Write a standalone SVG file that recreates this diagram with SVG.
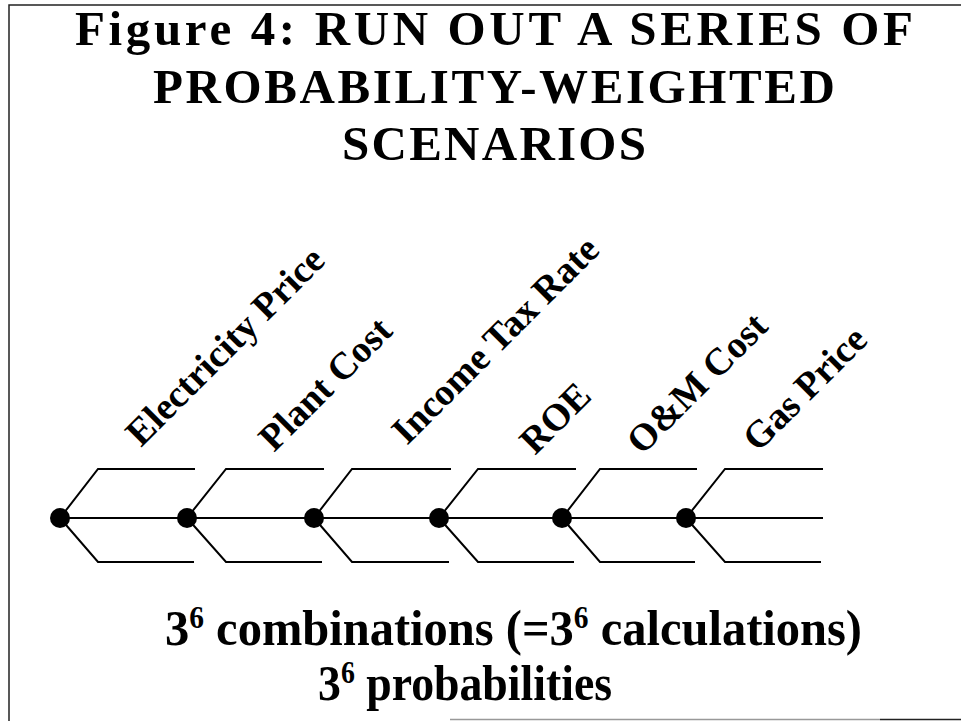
<svg xmlns="http://www.w3.org/2000/svg" width="961" height="721" viewBox="0 0 961 721">
<style>
  .title { font-family: "Liberation Serif", "Times New Roman", serif; font-weight: bold; font-size: 49px; fill: #000; }
  .lbl { font-family: "Liberation Serif", "Times New Roman", serif; font-weight: bold; font-size: 38px; fill: #000; }
  .foot { font-family: "Liberation Serif", "Times New Roman", serif; font-weight: bold; font-size: 51px; fill: #000; }
  .sup { font-size: 31px; }
  .branch { fill: none; stroke: #000; stroke-width: 2; stroke-linejoin: miter; }
  .dot { fill: #000; }
  .frame { fill: none; stroke: #222; stroke-width: 1.5; }
</style>
<rect x="0" y="0" width="961" height="721" fill="#fff"/>
<g id="frame">
  <path class="frame" d="M9,721 V5 H961"/>
  <path d="M450,719.5 H880" stroke="#999" stroke-width="1.5" fill="none"/>
  <path d="M880,719.5 H961" stroke="#222" stroke-width="1.5" fill="none"/>
</g>
<g id="title">
  <text class="title" x="75" y="45" textLength="838" lengthAdjust="spacing">Figure 4:  RUN OUT A SERIES OF</text>
  <text class="title" x="153" y="103" textLength="682" lengthAdjust="spacing">PROBABILITY-WEIGHTED</text>
  <text class="title" x="342" y="160" textLength="304" lengthAdjust="spacing">SCENARIOS</text>
</g>
<g id="connectors">
  <path class="branch" d="M60,518 L98,469 H195 M60,518 L98,562 H194 M60,518 H187"/>
  <path class="branch" d="M187,518 L226,469 H324 M187,518 L226,562 H322 M187,518 H314"/>
  <path class="branch" d="M314,518 L352,469 H451 M314,518 L352,562 H449 M314,518 H439"/>
  <path class="branch" d="M439,518 L478,469 H576 M439,518 L478,562 H574 M439,518 H562"/>
  <path class="branch" d="M562,518 L600,469 H697 M562,518 L600,562 H695 M562,518 H686"/>
  <path class="branch" d="M686,518 L725,469 H823 M686,518 L725,562 H821 M686,518 H823"/>
</g>
<g id="node-electricity-price">
  <circle class="dot" cx="60" cy="518" r="10"/>
  <text class="lbl" transform="translate(141,448) rotate(-45)">Electricity Price</text>
</g>
<g id="node-plant-cost">
  <circle class="dot" cx="187" cy="518" r="10"/>
  <text class="lbl" transform="translate(274,453) rotate(-45)">Plant Cost</text>
</g>
<g id="node-income-tax-rate">
  <circle class="dot" cx="314" cy="518" r="10"/>
  <text class="lbl" transform="translate(407,446) rotate(-45)">Income Tax Rate</text>
</g>
<g id="node-roe">
  <circle class="dot" cx="439" cy="518" r="10"/>
  <text class="lbl" transform="translate(535,456) rotate(-45)">ROE</text>
</g>
<g id="node-om-cost">
  <circle class="dot" cx="562" cy="518" r="10"/>
  <text class="lbl" transform="translate(642,456) rotate(-45)">O&amp;M Cost</text>
</g>
<g id="node-gas-price">
  <circle class="dot" cx="686" cy="518" r="10"/>
  <text class="lbl" transform="translate(758,453) rotate(-45)">Gas Price</text>
</g>
<g id="footer">
  <text class="foot" x="165" y="645" textLength="697" lengthAdjust="spacingAndGlyphs">3<tspan class="sup" dy="-17">6</tspan><tspan dy="17"> combinations (=3</tspan><tspan class="sup" dy="-17">6</tspan><tspan dy="17"> calculations)</tspan></text>
  <text class="foot" x="318" y="700" textLength="294" lengthAdjust="spacingAndGlyphs">3<tspan class="sup" dy="-17">6</tspan><tspan dy="17"> probabilities</tspan></text>
</g>
</svg>
